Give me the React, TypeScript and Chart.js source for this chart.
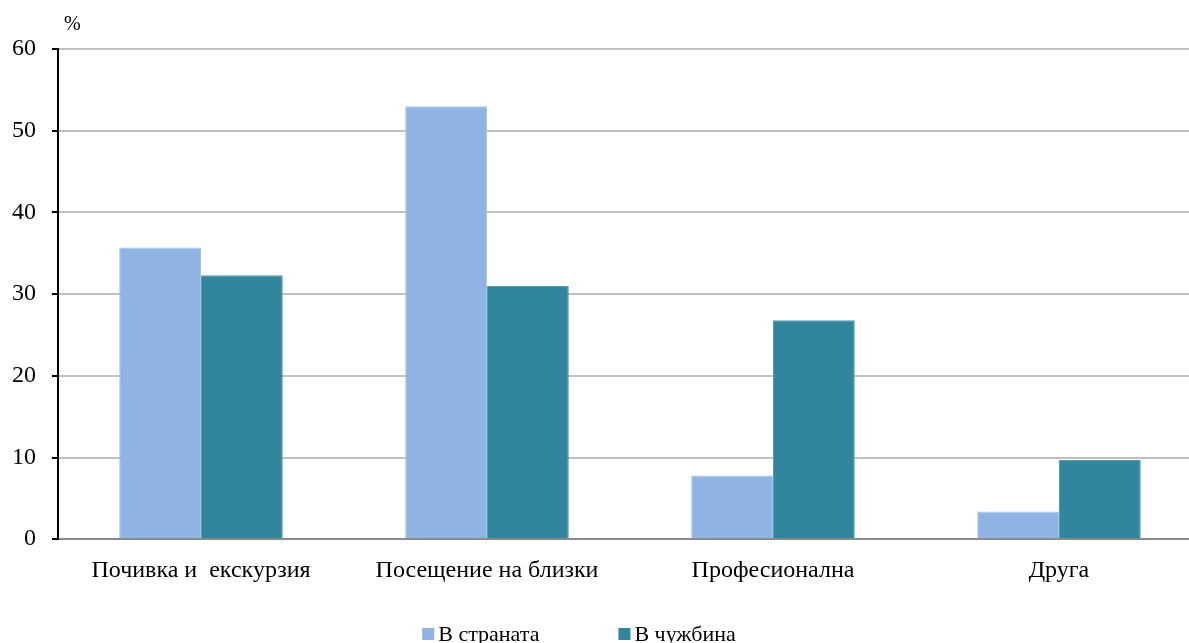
import React, { useEffect, useRef } from "react";
import { Chart, registerables } from "chart.js";

Chart.register(...registerables);

const categories = ["Почивка и  екскурзия", "Посещение на близки", "Професионална", "Друга"];
const seriesNames = ["В страната", "В чужбина"];
const domestic = [35.7, 53.0, 7.8, 3.4];
const abroad = [32.3, 31.0, 26.8, 9.7];
const yTicks = [0, 10, 20, 30, 40, 50, 60];
const unitLabel = "%";

const colors = ["#8fb3e2", "#31859c"];
const FONT = "'Liberation Serif', 'Times New Roman', serif";

const extrasPlugin = {
  id: "extras",
  afterDraw(chart: any) {
    const ctx = chart.ctx;
    const area = chart.chartArea;
    ctx.save();
    // unit label
    ctx.fillStyle = "#000";
    ctx.font = `20px ${FONT}`;
    ctx.textAlign = "left";
    ctx.textBaseline = "middle";
    ctx.fillText(unitLabel, area.left + 6, 25);
    // legend
    ctx.font = `22px ${FONT}`;
    const box = 12;
    const gap = 4;
    const between = 79;
    const widths = seriesNames.map((n) => box + gap + ctx.measureText(n).width);
    const total = widths.reduce((a, b) => a + b, 0) + between * (seriesNames.length - 1);
    let x = chart.width / 2 - total / 2 - 22;
    const y = 634;
    seriesNames.forEach((n, i) => {
      ctx.fillStyle = colors[i];
      ctx.fillRect(x, y - box / 2, box, box);
      ctx.fillStyle = "#000";
      ctx.fillText(n, x + box + gap, y + 1);
      x += widths[i] + between;
    });
    ctx.restore();
  },
};

export default function App() {
  const ref = useRef<HTMLCanvasElement>(null);
  useEffect(() => {
    document.body.style.margin = "0";
    const chart = new Chart(ref.current!, {
      type: "bar",
      data: {
        labels: categories,
        datasets: [
          { label: seriesNames[0], data: domestic, backgroundColor: colors[0], borderColor: "#a8c4ea", borderWidth: 1 },
          { label: seriesNames[1], data: abroad, backgroundColor: colors[1], borderColor: "#5a9db0", borderWidth: 1 },
        ],
      },
      options: {
        animation: false,
        responsive: true,
        maintainAspectRatio: false,
        layout: { padding: { top: 49, right: 0, bottom: 41, left: 0 } },
        plugins: { legend: { display: false }, tooltip: { enabled: false } },
        datasets: { bar: { categoryPercentage: 0.572, barPercentage: 1 } },
        scales: {
          x: {
            grid: { display: false, drawTicks: false },
            border: { display: true, color: "#8a8a8a", width: 2 },
            ticks: { color: "#000", font: { family: FONT, size: 24 }, padding: 17, maxRotation: 0, autoSkip: false },
          },
          y: {
            min: 0,
            max: 60,
            afterBuildTicks: (scale: any) => {
              scale.ticks = yTicks.map((v) => ({ value: v }));
            },
            afterFit: (scale: any) => {
              scale.width = 58;
            },
            grid: { color: "#c0c0c0", lineWidth: 2, tickColor: "#000", tickLength: 6, drawTicks: true },
            border: { display: true, color: "#000", width: 2 },
            ticks: { color: "#000", font: { family: FONT, size: 24 }, padding: 16 },
          },
        },
      },
      plugins: [extrasPlugin],
    });
    return () => chart.destroy();
  }, []);
  return (
    <div style={{ width: 1189, height: 643, overflow: "hidden", position: "relative" }}>
      <div style={{ width: 1202, height: 643, position: "relative" }}>
        <canvas ref={ref} />
      </div>
    </div>
  );
}
